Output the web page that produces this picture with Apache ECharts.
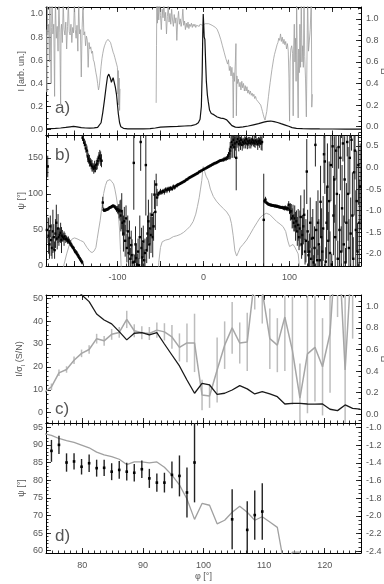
<!DOCTYPE html>
<html>
<head>
<meta charset="utf-8">
<script src="https://cdn.jsdelivr.net/npm/echarts@6/dist/echarts.min.js"></script>
<style>
  html, body { margin: 0; padding: 0; background: #fff; }
  #main { width: 384px; height: 584px; }
</style>
</head>
<body>
<div id="main"></div>
<script>
// panel a: intensity (black, left axis) vs phi
var phiI = [-183, -178, -172, -166, -160, -155, -151, -147, -142, -137, -132, -127, -123, -121, -119, -117, -115, -113, -111.5, -110, -109, -108, -107, -106, -105, -104, -102.5, -101, -100, -99, -97.5, -96, -93, -88, -80, -70, -62, -56, -50, -44, -38, -30, -22, -14, -9, -6, -4, -2.5, -1.5, -0.8, -0.3, 0.3, 0.8, 1.6, 2.4, 3.3, 4.5, 5.6, 7, 9, 12, 16, 20, 24, 27, 30, 33, 37, 41, 46, 52, 58, 64, 70, 74, 78, 82, 86, 90, 95, 99, 103, 108, 115, 125, 135, 150, 165, 183];
var intensI = [0.008, 0.010, 0.012, 0.015, 0.020, 0.025, 0.028, 0.025, 0.018, 0.015, 0.014, 0.016, 0.020, 0.030, 0.06, 0.15, 0.26, 0.38, 0.46, 0.48, 0.47, 0.44, 0.41, 0.43, 0.45, 0.44, 0.37, 0.30, 0.22, 0.14, 0.06, 0.025, 0.012, 0.008, 0.007, 0.007, 0.009, 0.015, 0.022, 0.024, 0.026, 0.028, 0.032, 0.036, 0.045, 0.06, 0.09, 0.2, 0.5, 0.85, 1.0, 0.9, 0.8, 0.78, 0.6, 0.42, 0.3, 0.24, 0.17, 0.14, 0.13, 0.11, 0.10, 0.095, 0.085, 0.06, 0.035, 0.022, 0.02, 0.024, 0.032, 0.042, 0.052, 0.065, 0.072, 0.075, 0.07, 0.062, 0.052, 0.04, 0.03, 0.018, 0.012, 0.009, 0.008, 0.007, 0.006, 0.005, 0.005];

// panel a: polarisation degree (grey, right axis), [phi, P]; '-' breaks the line
var polA = [
  [-182.5, 0.9], [-182, 0.32], [-181.5, 1.15], [-181, 0.85], [-180, 0.95], [-179, 0.6], [-178.5, 1.15], [-178, 0.88], [-177, 0.4], [-176.5, 0.92], [-176, 1.2], [-175, 0.86], [-174, 0.95], [-173, 0.28], [-172.5, 0.9], [-172, 1.15], [-171, 0.82], [-170, 0.93], [-169, 0.7], [-168, 1.15], [-167, 0.87], [-166, 0.2], [-165.5, 0.9], [-165, 0.95], [-164, 0.78], [-163, 1.15], [-162, 0.9], [-161, 0.85], [-160, 0.97], [-159, 0.72], [-158, 0.93], [-157, 1.15], [-156, 0.88], [-155, 0.85], [-154, 0.95], [-153, 0.78], [-152, 0.92], [-151, 0.87], [-150, 1.15], [-149, 0.9], [-148, 0.82], [-147, 0.94], [-146, 0.7], [-145, 1.15], [-144, 0.86], [-143, 0.9], [-142, 0.46], [-141, 0.92], [-140, 1.15], [-139, 0.85], [-138, 0.88], [-137, 0.75], [-136, 0.84], [-135, 0.8], [-134, 0.55], [-133, 0.78], [-132, 0.72], [-131, 0.74], [-130, 0.68], [-129, 0.7], [-128, 0.62], [-127, 0.6], [-126, 0.55], [-125, 0.5], [-124, 0.46], [-123, 0.4], [-122, 0.34], [-121, 0.38], [-120, 0.47], [-119, 0.56], [-118, 0.63], [-117, 0.68], [-116, 0.72], [-115, 0.75], [-114, 0.77], [-113, 0.79], [-112, 0.8], [-111, 0.81], [-110, 0.81], [-109, 0.8], [-108, 0.78], [-107, 0.75], [-106, 0.72], [-105, 0.69], [-104, 0.67], [-103, 0.64], [-102, 0.61], [-101, 0.58], [-100, 0.55], [-99.5, 0.3], [-99, 0.52], [-98.5, 0.2], [-98, 0.45], [-97.5, 0.15], [-97, 0.35],
  [-76, '-'],
  [-55, 0.22], [-54.6, 0.75], [-54.2, 1.2], [-53.5, 0.96], [-52.8, 1.12], [-52, 0.99], [-51, 1.16], [-50, 1.03], [-49, 0.9], [-48, 1.09], [-47, 1.01], [-46, 1.15], [-45, 0.98], [-44, 1.06], [-43, 0.86], [-42, 1.02], [-41, 1.12], [-40, 0.97], [-39, 1.05], [-38, 0.95], [-37, 1.09], [-36, 0.99], [-35, 0.93], [-34, 1.04], [-33, 0.96], [-32, 1.01], [-31, 0.8], [-30, 0.98], [-29, 1.07], [-28, 0.95], [-27, 1.0], [-26, 0.93], [-25, 0.98], [-24, 1.09], [-23, 0.94], [-22, 0.98], [-21, 0.9], [-20, 0.96], [-19, 0.92], [-18, 0.97], [-17, 0.91], [-16, 0.95], [-15, 0.93], [-14, 0.96], [-13, 0.92], [-12, 0.95], [-11, 0.93], [-10, 0.95], [-9, 0.92], [-8, 0.94], [-7, 0.93], [-6, 0.95], [-5, 0.93], [-4, 0.95], [-3, 0.94], [-2, 0.95], [-1, 0.94],
  [0, 0.95], [2, 0.955], [4, 0.95], [6, 0.955], [8, 0.95], [10, 0.94], [12, 0.93], [14, 0.92], [16, 0.9], [18, 0.86], [20, 0.81], [22, 0.75], [24, 0.69], [26, 0.63], [28, 0.58], [29, 0.62], [30, 0.52], [31, 0.56], [32, 0.47], [33, 0.55], [34, 0.44], [34.6, 0.08], [35.2, 0.5], [36, 0.42], [37, 0.6], [37.7, 0.77], [38.2, 0.1], [38.8, 0.47], [39.5, 0.4], [40.5, 0.44], [41.5, 0.37], [42.5, 0.41], [43.5, 0.34], [44.5, 0.42], [45.5, 0.36], [46.5, 0.4], [47.5, 0.33], [48.5, 0.38], [49.5, 0.33], [50.5, 0.37], [51.5, 0.31], [52.5, 0.34], [53.5, 0.3], [54.5, 0.33], [55.5, 0.29], [56.5, 0.31], [57.5, 0.28], [58.5, 0.3], [59.5, 0.26], [60.5, 0.28], [61.5, 0.25], [62.5, 0.25], [63.5, 0.23], [64.5, 0.22], [65.5, 0.22], [66.5, 0.2], [67.5, 0.17], [68.5, 0.14], [69.5, 0.11], [70.5, 0.08], [71.5, 0.06], [72.5, 0.07], [73.5, 0.14], [74.5, 0.21], [75.5, 0.28], [76.5, 0.35], [77.5, 0.41], [78.5, 0.47], [79.5, 0.53], [80.5, 0.58], [81.5, 0.63], [82.5, 0.67], [83.5, 0.7], [84.5, 0.73], [85.5, 0.76], [86.5, 0.78], [87.5, 0.82], [88.5, 0.8], [89.5, 0.86], [90.5, 0.79], [91.5, 0.83], [92.5, 0.77], [93.5, 0.81], [94.5, 0.76], [95.5, 0.79], [96.5, 0.72], [97.5, 0.77], [98.5, 0.7], [99.3, 0.45], [100, 0.05], [100.6, 0.6], [101.5, 0.72], [102.5, 0.75], [103.5, 0.68], [104.2, 0.1], [104.8, 0.74], [105.5, 0.95], [106.2, 0.6], [107, 0.82], [107.6, 0.42], [108.2, 1.2], [109, 0.6], [110, 0.08], [110.6, 0.72], [111.3, 0.5], [112, 0.95], [112.8, 0.55], [113.6, 1.2], [114.4, 0.6], [115.2, 0.75], [116, 0.55], [116.8, 1.2], [117.6, 0.65], [118.5, 0.45], [119.5, 0.09], [120.2, 0.6], [121, 1.2], [122, 0.7], [124, 0.9], [125.3, 1.2], [125.8, 0.18], [126.5, 0.3]
];

// panel b: position angle psi with error, [phi, psi, err]
var psiB = [
  [-182, 50, 18], [-181, 138, 15], [-180, 42, 25], [-179, 30, 20], [-178, 55, 15], [-177, 36, 22], [-176, 25, 15], [-175, 48, 30], [-174, 40, 18], [-173, 22, 12], [-172, 45, 20], [-171, 60, 25], [-170, 38, 15], [-169, 52, 20], [-168, 40, 12], [-167, 43, 10], [-166, 46, 14], [-165, 36, 18], [-164, 42, 8], [-163, 40, 6], [-162, 38, 10], [-161, 41, 5], [-160, 37, 5], [-159, 38, 4], [-158, 35, 4], [-157, 36, 5], [-156, 34, 4], [-155, 32, 4], [-154, 30, 3], [-153, 28, 3], [-152, 26, 3], [-151, 25, 3], [-150, 22, 3], [-149, 20, 3], [-148, 19, 3], [-147, 17, 3], [-146, 15, 3], [-145, 13, 3], [-144, 11, 3], [-143, 9, 3], [-142, 7, 3], [-141, 5, 3],
  [-140.5, 178, 4], [-139.5, 175, 5], [-138.5, 171, 5], [-137.5, 168, 6], [-136.5, 163, 6], [-135.5, 160, 7], [-134.5, 152, 8], [-133.5, 149, 7], [-132.5, 146, 8], [-131.5, 144, 6], [-130.5, 141, 7], [-129.5, 139, 8], [-128.5, 137, 6], [-127.5, 135, 7], [-126.5, 138, 8], [-125.5, 136, 6], [-124.5, 140, 7], [-123.5, 142, 8], [-122.5, 146, 7], [-121.5, 150, 8], [-120.5, 153, 8], [-119.5, 149, 10], [-118.5, 146, 9],
  [-117, 88, 8], [-116, 78, 3], [-115, 77, 2], [-114, 77.5, 2], [-113, 78, 2], [-112, 78.5, 2], [-111, 79, 2], [-110, 80, 2], [-109, 81, 2], [-108, 81.5, 2], [-107, 82, 2], [-106, 83, 2], [-105, 83.5, 2], [-104, 83, 2], [-103, 82, 2.5], [-102, 80.5, 3], [-101, 79, 4], [-100, 78, 5], [-99, 78.5, 7], [-98, 76, 10], [-97, 77, 14],
  [-96, 70, 22], [-95, 76, 25], [-94, 60, 18], [-93, 45, 25], [-92, 62, 20], [-91, 35, 22], [-90, 66, 18], [-89, 25, 20], [-88, 48, 22], [-87, 18, 20], [-86, 39, 24], [-85, 10, 15], [-84, 29, 20], [-83, 15, 22], [-82, 5, 12], [-81, 143, 65], [-80, 6, 10], [-79, 30, 25], [-78, 11, 20], [-77, 2, 15], [-76, 20, 18], [-75, 1, 10], [-74, 40, 30], [-73, 172, 40], [-72, 25, 28], [-71, 12, 20], [-70, 34, 22], [-69, 8, 15], [-68, 18, 20], [-67, 140, 70], [-66, 22, 18], [-65, 45, 25], [-64, 62, 30], [-63, 30, 20], [-62, 52, 22], [-61, 43, 25], [-60, 71, 30], [-59, 40, 28], [-58, 55, 20], [-57, 99, 20], [-56, 75, 25], [-55, 113, 15], [-54, 95, 12],
  [-53, 99, 4], [-51.5, 101, 3], [-50, 103, 4], [-48.5, 102, 3], [-47, 104, 3], [-45.5, 103, 4], [-44, 106, 3], [-42.5, 105, 4], [-41, 107, 3], [-39.5, 106, 4], [-38, 108, 3], [-36.5, 107, 3], [-35, 110, 3], [-33.5, 109, 3], [-32, 111, 2], [-30.5, 112, 3], [-29, 113, 2], [-27.5, 114, 2], [-26, 115, 2], [-24.5, 116, 2], [-23, 117, 2], [-21.5, 118, 2], [-20, 119.5, 2], [-18.5, 120.5, 2], [-17, 122, 2], [-15.5, 123, 2], [-14, 124, 2], [-12.5, 125, 2], [-11, 126, 2], [-9.5, 127, 2], [-8, 128, 2], [-6.5, 129, 2], [-5, 130.5, 2], [-3.5, 131.5, 2], [-2, 132.5, 1.5], [-0.5, 133.5, 1.5], [1, 134.5, 1.5], [2.5, 135.5, 1.5], [4, 136.5, 2], [5.5, 137.5, 2], [7, 138.5, 2], [8.5, 139.5, 2], [10, 140.5, 2], [11.5, 141.5, 2], [13, 142.5, 2], [14.5, 143, 2], [16, 144, 2], [17.5, 145, 2], [19, 146, 2], [20.5, 146.5, 2], [22, 147, 2], [23.5, 147.5, 3], [25, 148.5, 3], [26.5, 149, 3], [28, 151, 4], [29, 153, 5],
  [30, 156, 8], [31, 160, 12], [32, 165, 15], [33, 172, 10], [34, 168, 18], [35, 175, 12], [36, 165, 15], [37, 170, 10], [38, 150, 45], [39, 172, 8], [40, 176, 6], [41, 169, 10], [42, 173, 7], [43, 170, 9], [44, 175, 6], [45, 168, 8], [46, 172, 6], [47, 170, 7], [48, 174, 6], [49, 171, 8], [50, 176, 5], [51, 169, 7], [52, 173, 6], [53, 171, 8], [54, 174, 5], [55, 170, 7], [56, 172, 6], [57, 175, 7], [58, 171, 5], [59, 173, 8], [60, 170, 6], [61, 174, 6], [62, 172, 5], [63, 169, 8], [64, 173, 6], [65, 171, 7], [66, 174, 6], [67, 170, 9], [68, 172, 12], [70, 64, 64],
  [71, 90, 3], [72, 92, 4], [73, 88, 2], [74, 87, 2], [75, 86, 2], [76, 85.5, 2], [77, 85, 2], [78, 84.5, 2], [79, 84.5, 2], [80, 84, 2], [81, 84, 2], [82, 83.5, 2], [83, 83, 2], [84, 83.5, 2], [85, 82.5, 2], [86, 83, 2], [87, 82, 2], [88, 82, 2], [89, 81.5, 2], [90, 81.5, 2], [91, 81, 2], [92, 81, 2.5], [93, 80.5, 2.5], [94, 80, 3], [95, 81, 3], [96, 80, 3], [97, 79.5, 3], [98, 80, 4], [99, 85, 5], [100, 78, 6],
  [101, 75, 12], [102, 76, 10], [103, 66, 14], [104, 69, 16], [105, 60, 12], [106, 66, 18], [107, 55, 20], [108, 62, 15], [109, 48, 20], [110, 57, 22], [111, 40, 18], [112, 52, 25], [113, 68, 30], [114, 30, 20], [115, 43, 28], [116, 55, 25], [117, 71, 35], [118, 20, 18], [119, 35, 30], [120, 131, 45], [121, 48, 30], [122, 15, 20], [123, 20, 25], [124, 60, 35], [125, 10, 15], [126, 38, 30], [127, 39, 40], [128, 5, 10], [129, 25, 30], [130, 168, 30], [131, 50, 40], [132, 8, 15], [133, 60, 45], [134, 30, 35], [135, 8, 20], [136, 89, 50], [137, 40, 40], [138, 20, 30], [139, 52, 45], [140, 155, 40], [141, 145, 45], [142, 6, 20], [143, 60, 50], [144, 110, 60], [145, 35, 40], [146, 90, 55], [147, 18, 30], [148, 140, 50], [149, 2, 15], [150, 166, 30], [151, 70, 55], [152, 120, 60], [153, 40, 45], [154, 160, 40], [155, 100, 65], [156, 10, 25], [157, 165, 30], [158, 50, 50], [159, 150, 45], [160, 20, 35], [161, 80, 60], [162, 170, 25], [163, 30, 40], [164, 120, 60], [165, 5, 20], [166, 60, 55], [167, 172, 20], [168, 100, 65], [169, 25, 40], [170, 150, 50], [171, 45, 50], [172, 175, 15], [173, 70, 60], [174, 10, 30], [175, 130, 60], [176, 160, 40], [177, 50, 55], [178, 90, 70], [179, 20, 40], [180, 140, 55], [181, 60, 60], [182, 110, 60]
];

// panel b: log intensity (grey, right axis), [phi, logI]
var logIB = [
  [-166, -2.5], [-162.5, -2.28], [-159, -2.0], [-156, -1.8], [-153, -1.66], [-150, -1.63], [-147, -1.65], [-143, -1.69], [-139.5, -1.72], [-135.5, -1.85], [-132, -1.94], [-129.5, -1.97], [-127, -1.93], [-125, -1.85], [-123.5, -1.65], [-121.5, -1.4], [-120, -1.22], [-118, -0.9], [-116, -0.6], [-114, -0.42], [-112, -0.31], [-110, -0.28], [-108.5, -0.28], [-106.5, -0.33], [-104.5, -0.38], [-103, -0.5], [-101.5, -0.66], [-100, -0.85], [-98.8, -1.1], [-97.5, -1.45], [-96.5, -1.9], [-95.5, -2.4], [-95, -2.6],
  [-70, '-'],
  [-53, -2.6], [-52, -2.2], [-50, -1.85], [-48, -1.72], [-44, -1.68], [-40, -1.66], [-35, -1.6], [-31, -1.58], [-27, -1.55], [-23, -1.5], [-19.5, -1.44], [-15.5, -1.36], [-12, -1.25], [-9, -1.08], [-7, -0.9], [-5, -0.7], [-3.5, -0.5], [-2, -0.3], [-1, -0.1], [-0.3, 0.02], [0.5, -0.05], [1.5, -0.1], [3, -0.2], [5.6, -0.3], [8, -0.5], [11.4, -0.67], [15, -0.78], [19, -0.87], [23, -0.95], [27, -1.03], [30.5, -1.14], [32.5, -1.3], [34.5, -1.58], [36.5, -1.93], [38.5, -2.05], [40.5, -1.96], [42.5, -1.86], [46, -1.78], [50, -1.68], [54, -1.55], [58, -1.41], [62, -1.28], [65.5, -1.17], [69, -1.1], [73, -1.06], [77, -1.09], [81, -1.17], [85, -1.25], [89, -1.31], [92.5, -1.37], [95.5, -1.48], [98, -1.7], [100, -1.83], [102, -1.8], [104, -1.78], [106, -1.84], [108, -1.86], [110, -2.0], [111.5, -2.3], [112.5, -2.6]
];

// panels c and d: zoomed range, one value per phi bin
var phiC = [73.66, 74.9, 76.14, 77.39, 78.63, 79.87, 81.12, 82.36, 83.6, 84.84, 86.09, 87.33, 88.57, 89.82, 91.06, 92.3, 93.55, 94.79, 96.03, 97.27, 98.52, 99.76, 101.0, 102.25, 103.49, 104.73, 105.98, 107.22, 108.46, 109.7, 110.95, 112.19, 113.43, 114.68, 115.92, 117.16, 118.4, 119.65, 120.89, 122.13, 123.38, 124.62, 125.86];
var polC = [0.2, 0.255, 0.384, 0.415, 0.50, 0.564, 0.60, 0.70, 0.68, 0.74, 0.758, 0.878, 0.773, 0.755, 0.748, 0.779, 0.763, 0.716, 0.619, 0.661, 0.661, 0.179, 0.17, 0.41, 0.64, 0.80, 0.66, 0.67, 1.27, 1.14, 0.70, 0.64, 0.90, 0.59, 0.15, 0.56, 0.62, 0.44, 0.75, 1.8, 0.41, 1.6, null];
var polErrC = [0.03, 0.03, 0.03, 0.03, 0.035, 0.035, 0.04, 0.045, 0.045, 0.05, 0.05, 0.08, 0.06, 0.06, 0.06, 0.07, 0.08, 0.11, 0.13, 0.18, 0.27, 0.14, 0.11, 0.30, 0.22, 0.24, 0.19, 0.27, 0.30, 0.30, 0.28, 0.25, 0.5, 0.5, 0.32, 0.55, 0.5, 0.45, 0.55, 0.9, 0.8, 0.9, null];
var snC = [null, 70, 64, 59, 55, 51.5, 48.5, 43.1, 40.5, 38.8, 35.4, 31.8, 34.7, 35.0, 34.0, 35.0, 30.0, 25.2, 20.4, 14.3, 8.5, 12.8, 12.1, 8.0, 8.5, 9.9, 11.8, 10.4, 8.2, 9.2, 8.2, 7.0, 3.8, 4.1, 4.1, 3.8, 3.7, 3.8, 1.5, 0.9, 3.4, 1.9, 1.6];
var psiD = [null, 88.3, 90.0, 85.0, 85.3, 83.8, 84.8, 83.4, 83.5, 82.4, 82.9, 82.4, 82.1, 83.1, 80.5, 79.3, 79.3, 81.5, 81.2, 76.5, 85.0, null, null, null, null, 68.9, null, 65.9, 70.1, 71.1, null, null, null, null, null, null, null, null, null, null, null, null, null];
var psiErrD = [null, 3.1, 2.6, 2.6, 2.3, 2.2, 2.5, 2.4, 2.3, 2.4, 2.5, 2.5, 2.5, 2.5, 2.7, 2.6, 2.8, 3.8, 5.8, 7.1, 11.3, null, null, null, null, 8.5, null, 8.1, 7.0, 8.0, null, null, null, null, null, null, null, null, null, null, null, null, null];
var logID = [-1.07, -1.09, -1.125, -1.15, -1.17, -1.20, -1.23, -1.28, -1.31, -1.33, -1.36, -1.42, -1.39, -1.39, -1.40, -1.39, -1.45, -1.54, -1.65, -1.81, -2.04, -1.86, -1.88, -2.09, -2.05, -1.96, -1.89, -1.96, -2.05, -2.01, -2.07, -2.13, -2.6, -2.41, -2.41, -2.7, null, null, null, null, null, null, null];

// tick labels / major ticks
var xMajorAB = [-150, -100, -50, 0, 50, 100, 150];
var xLabelAB = [-100, 0, 100];
var xMajorCD = [80, 90, 100, 110, 120];
var yTicksPol = [0, 0.2, 0.4, 0.6, 0.8, 1.0];
var yTicksPsiB = [0, 50, 100, 150];
var yTicksLogB = [-2.0, -1.5, -1.0, -0.5, 0.0, 0.5];
var yTicksSN = [0, 10, 20, 30, 40, 50];
var yTicksPsiD = [60, 65, 70, 75, 80, 85, 90, 95];
var yTicksLogD = [-2.4, -2.2, -2.0, -1.8, -1.6, -1.4, -1.2, -1.0];

var TXT = '#555';
var FONT = '"Liberation Sans", Arial, sans-serif';
var f1 = function (v) { return Number(v).toFixed(1); };
var f0 = function (v) { return String(Math.round(v)); };

function range(a, b, step) {
  var out = [];
  var n = Math.round((b - a) / step);
  for (var i = 0; i <= n; i++) out.push(Math.round((a + i * step) * 1000) / 1000);
  return out;
}

function axisPair(dim, gi, pos, min, max, o) {
  var major = {
    type: 'value', gridIndex: gi, position: pos, min: min, max: max,
    axisLine: { show: true, onZero: false, lineStyle: { color: '#000', width: 1 } },
    axisTick: { show: true, inside: true, length: 5, customValues: o.majors, lineStyle: { color: '#000', width: 0.8 } },
    axisLabel: { show: !!o.labels, customValues: o.labels || [], formatter: o.fmt, margin: o.margin || 4, color: TXT, fontSize: 9, fontFamily: FONT },
    splitLine: { show: false },
    name: o.name || '', nameLocation: 'middle', nameGap: o.nameGap || 20, nameRotate: dim === 'y' ? 90 : 0,
    nameMoveOverlap: false,
    nameTextStyle: { color: TXT, fontSize: 9, fontFamily: FONT, rich: o.rich }
  };
  var minor = {
    type: 'value', gridIndex: gi, position: pos, min: min, max: max,
    axisLine: { show: false, onZero: false },
    axisTick: { show: true, inside: true, length: 2.5, customValues: o.minors, lineStyle: { color: '#000', width: 0.8 } },
    axisLabel: { show: false }, splitLine: { show: false }
  };
  return [major, minor];
}

var grids = [
  { left: 46, top: 7, width: 315, height: 128.5 },
  { left: 46, top: 135.5, width: 315, height: 130.5 },
  { left: 46, top: 295, width: 315, height: 128 },
  { left: 46, top: 423, width: 315, height: 130 }
];
grids.forEach(function (g) { g.containLabel = false; g.outerBoundsMode = 'none'; });

var xMinorAB = range(-180, 180, 10);
var xMinorCD = range(74, 126, 1);
var xAxes = [].concat(
  axisPair('x', 0, 'bottom', -183, 183, { majors: xMajorAB, minors: xMinorAB }),
  axisPair('x', 0, 'top', -183, 183, { majors: xMajorAB, minors: xMinorAB }),
  axisPair('x', 1, 'bottom', -183, 183, { majors: xMajorAB, minors: xMinorAB, labels: xLabelAB, fmt: f0, margin: 7 }),
  axisPair('x', 1, 'top', -183, 183, { majors: xMajorAB, minors: xMinorAB }),
  axisPair('x', 2, 'bottom', 74, 126, { majors: xMajorCD, minors: xMinorCD }),
  axisPair('x', 2, 'top', 74, 126, { majors: xMajorCD, minors: xMinorCD }),
  axisPair('x', 3, 'bottom', 74, 126, { majors: xMajorCD, minors: xMinorCD, labels: xMajorCD, fmt: f0, margin: 8, name: 'φ [°]', nameGap: 19 }),
  axisPair('x', 3, 'top', 74, 126, { majors: xMajorCD, minors: xMinorCD })
);
var yAxes = [].concat(
  axisPair('y', 0, 'left', -0.05, 1.06, { majors: yTicksPol, minors: range(-0.05, 1.05, 0.05), labels: yTicksPol, fmt: f1, margin: 3, name: 'I [arb. un.]', nameGap: 20 }),
  axisPair('y', 0, 'right', -0.083, 1.11, { majors: yTicksPol, minors: range(-0.05, 1.1, 0.05), labels: yTicksPol, fmt: f1, margin: 5, name: 'Π', nameGap: 19 }),
  axisPair('y', 1, 'left', 0, 181, { majors: yTicksPsiB, minors: range(0, 180, 10), labels: yTicksPsiB, fmt: f0, margin: 3, name: 'ψ [°]', nameGap: 20 }),
  axisPair('y', 1, 'right', -2.28, 0.74, { majors: yTicksLogB, minors: range(-2.2, 0.7, 0.1), labels: yTicksLogB, fmt: f1, margin: 5, name: 'log I [arb. un.]', nameGap: 24 }),
  axisPair('y', 2, 'left', -4.5, 51.4, { majors: yTicksSN, minors: range(-4, 50, 2), labels: yTicksSN, fmt: f0, margin: 3, name: 'I/σ{s|I} (S/N)', nameGap: 20, rich: { s: { fontSize: 6, color: TXT, fontFamily: FONT, padding: [6, 0, 0, 0] } } }),
  axisPair('y', 2, 'right', -0.08, 1.104, { majors: yTicksPol, minors: range(-0.05, 1.1, 0.05), labels: yTicksPol, fmt: f1, margin: 5, name: 'Π', nameGap: 19 }),
  axisPair('y', 3, 'left', 59.35, 96.2, { majors: yTicksPsiD, minors: range(60, 96, 1), labels: yTicksPsiD, fmt: f0, margin: 3, name: 'ψ [°]', nameGap: 20 }),
  axisPair('y', 3, 'right', -2.42, -0.95, { majors: yTicksLogD, minors: range(-2.4, -0.95, 0.05), labels: yTicksLogD, fmt: f1, margin: 5, name: 'log I [arb. un.]', nameGap: 24 })
);

function pairs(xs, ys) {
  return xs.map(function (x, i) { return [x, ys[i] == null ? '-' : ys[i]]; });
}
function triples(xs, ys, es) {
  var out = [];
  xs.forEach(function (x, i) { if (ys[i] != null) out.push([x, ys[i], es[i]]); });
  return out;
}

function errRender(barColor, barWidth, dotColor, dotSize) {
  return function (params, api) {
    var x = api.value(0), y = api.value(1), e = api.value(2);
    var cs = params.coordSys;
    var pc = api.coord([x, y]);
    if (pc[0] < cs.x - 0.5 || pc[0] > cs.x + cs.width + 0.5) return null;
    var pts = echarts.graphic.clipPointsByRect([api.coord([x, y - e]), api.coord([x, y + e])], cs);
    var kids = [{ type: 'line', shape: { x1: pts[0][0], y1: pts[0][1], x2: pts[1][0], y2: pts[1][1] }, style: { stroke: barColor, lineWidth: barWidth } }];
    if (dotColor && pc[1] >= cs.y && pc[1] <= cs.y + cs.height) {
      kids.push({ type: 'rect', shape: { x: pc[0] - dotSize / 2, y: pc[1] - dotSize / 2, width: dotSize, height: dotSize }, style: { fill: dotColor } });
    }
    return { type: 'group', children: kids };
  };
}

function lineSeries(xi, yi, data, color, width, z) {
  return { type: 'line', xAxisIndex: xi, yAxisIndex: yi, data: data, symbol: 'none', showSymbol: false, clip: true, z: z || 2,
    lineStyle: { color: color, width: width }, itemStyle: { color: color }, silent: true };
}

var series = [
  lineSeries(0, 2, polA, '#9d9d9d', 0.8, 2),
  lineSeries(0, 0, pairs(phiI, intensI), '#111', 1.2, 3),
  lineSeries(4, 6, logIB, '#b0b0b0', 1, 2),
  { type: 'custom', xAxisIndex: 4, yAxisIndex: 4, data: psiB, renderItem: errRender('#222', 1, '#000', 2.4), z: 3, silent: true },
  { type: 'custom', xAxisIndex: 8, yAxisIndex: 10, data: triples(phiC, polC, polErrC), renderItem: errRender('#bdbdbd', 1.5, null, 0), z: 2, silent: true },
  lineSeries(8, 10, pairs(phiC, polC), '#a6a6a6', 1.5, 2),
  lineSeries(8, 8, pairs(phiC, snC), '#1a1a1a', 1.3, 3),
  lineSeries(12, 14, pairs(phiC, logID), '#a0a0a0', 1.3, 2),
  { type: 'custom', xAxisIndex: 12, yAxisIndex: 12, data: triples(phiC, psiD, psiErrD), renderItem: errRender('#222', 1.4, '#000', 2.6), z: 3, silent: true }
];

var letterStyle = { fontSize: 17, fill: '#555', fontFamily: FONT };
var chart = echarts.init(document.getElementById('main'), null, { renderer: 'canvas' });
chart.setOption({
  animation: false,
  backgroundColor: '#fff',
  grid: grids,
  xAxis: xAxes,
  yAxis: yAxes,
  series: series,
  graphic: [
    { type: 'text', left: 55, top: 100, style: Object.assign({ text: 'a)' }, letterStyle) },
    { type: 'text', left: 55, top: 147, style: Object.assign({ text: 'b)' }, letterStyle) },
    { type: 'text', left: 55, top: 401, style: Object.assign({ text: 'c)' }, letterStyle) },
    { type: 'text', left: 55, top: 528, style: Object.assign({ text: 'd)' }, letterStyle) }
  ]
});
</script>
</body>
</html>
